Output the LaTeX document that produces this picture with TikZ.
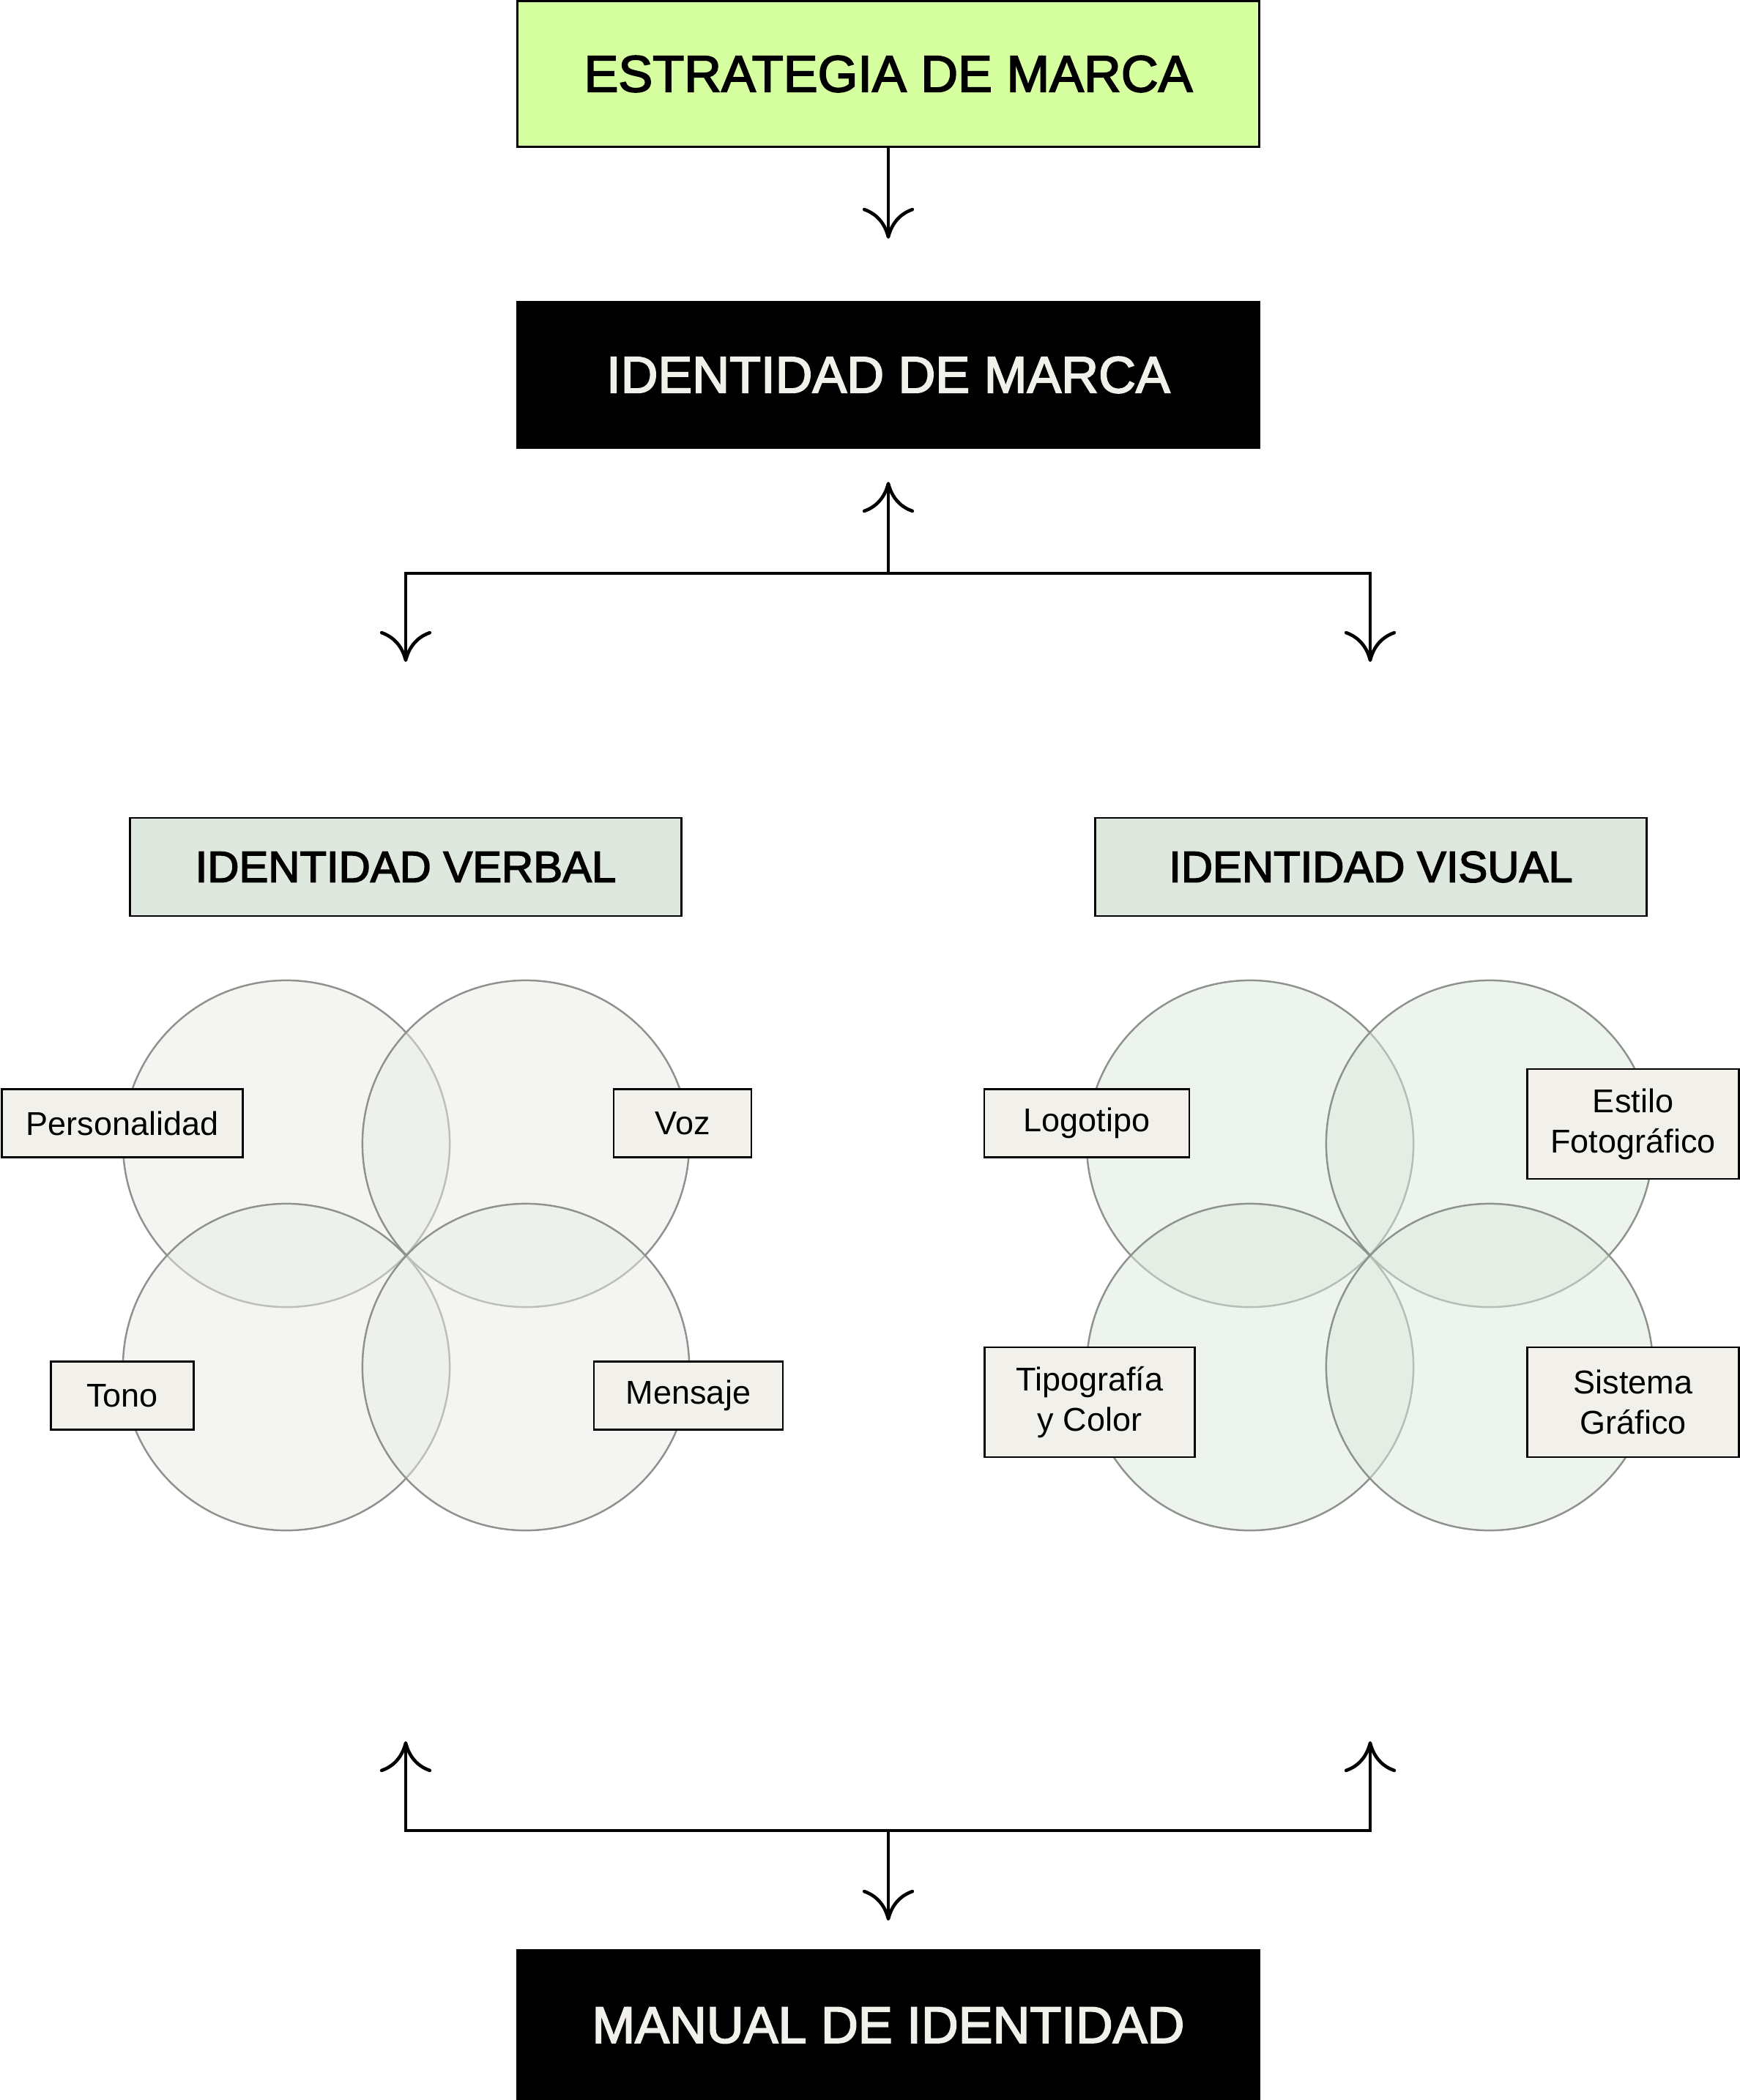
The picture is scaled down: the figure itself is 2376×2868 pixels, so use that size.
\documentclass[tikz,border=0pt]{standalone}
\usepackage{fontspec}
\setmainfont{Liberation Sans}
\newfontfamily\titlefont[FakeBold=2.6]{Liberation Sans}
\usetikzlibrary{arrows.meta}

\definecolor{lime}{HTML}{D6FF9F}
\definecolor{sage}{HTML}{DFE8DF}
\definecolor{paper}{HTML}{F2F0EA}
\definecolor{ring}{HTML}{8E928D}
\definecolor{verbalfill}{HTML}{E9ECE5}
\definecolor{visualfill}{HTML}{DCE9DC}

\tikzset{cmtip/.tip={Computer Modern Rightarrow[length=12pt, width=20pt]}}

\begin{document}
\begin{tikzpicture}[
  x=0.01cm, y=-0.01cm,
  title/.style={draw=black, line width=0.9pt, minimum width=10.13cm, minimum height=1.99cm,
    font=\titlefont\fontsize{20}{24}\selectfont},
  darkbox/.style={title, fill=black, text=paper},
  section/.style={draw=black, line width=0.8pt, fill=sage, minimum width=7.53cm,
    minimum height=1.34cm, font=\titlefont\fontsize{17}{20}\selectfont},
  tag/.style={draw=black, line width=0.8pt, fill=paper, minimum height=0.93cm, inner xsep=0,
    align=center, font=\fontsize{12.8}{15.6}\selectfont},
  venn/.style={circle, draw=ring, line width=0.7pt, minimum size=4.46cm, inner sep=0, fill opacity=0.5},
  flow/.style={line width=1.3pt, -cmtip},
  flowboth/.style={line width=1.3pt, cmtip-cmtip}
]
\useasboundingbox (0,0) rectangle (2376,2868);

% chain at the top
\node[title, fill=lime] (strategy) at (1213,101) {ESTRATEGIA DE MARCA};
\node[darkbox] (identity) at (1213,512) {IDENTIDAD DE MARCA};

\coordinate (strategytip) at (1213,326);
\coordinate (identitytip) at (1213,658);
\coordinate (split) at (1213,783);
\coordinate (splitL) at (554,783);
\coordinate (splitR) at (1871,783);
\coordinate (verbaltip) at (554,904);
\coordinate (visualtip) at (1871,904);

\draw[flow] (strategy) -- (strategytip);
\draw[flow] (split) -- (identitytip);
\draw[flowboth] (verbaltip) -- (splitL) -- (splitR) -- (visualtip);

\node[section] (verbal) at (554,1184) {IDENTIDAD VERBAL};
\node[section] (visual) at (1872,1184) {IDENTIDAD VISUAL};

% verbal circles
\node[venn, fill=verbalfill] (vA) at (391,1562) {};
\node[venn, fill=verbalfill] (vB) at (718,1562) {};
\node[venn, fill=verbalfill] (vC) at (391,1867) {};
\node[venn, fill=verbalfill] (vD) at (718,1867) {};

% visual circles
\node[venn, fill=visualfill] (sA) at (1707,1562) {};
\node[venn, fill=visualfill] (sB) at (2034,1562) {};
\node[venn, fill=visualfill] (sC) at (1707,1867) {};
\node[venn, fill=visualfill] (sD) at (2034,1867) {};

\node[tag, minimum width=3.29cm] (personality) at (167,1534) {Personalidad};
\node[tag, minimum width=1.88cm] (voice) at (932,1534) {Voz};
\node[tag, minimum width=1.95cm] (tone) at (167,1906) {Tono};
\node[tag, minimum width=2.58cm] (message) at (940,1906) {Mensaje};

\node[tag, minimum width=2.80cm] (logo) at (1484,1534) {Logotipo};
\node[tag, minimum width=2.89cm, minimum height=1.50cm] (photo) at (2230,1535) {Estilo\\Fotográfico};
\node[tag, minimum width=2.87cm, minimum height=1.50cm] (type) at (1488,1915) {Tipografía\\y Color};
\node[tag, minimum width=2.89cm, minimum height=1.50cm] (graphic) at (2230,1915) {Sistema\\Gráfico};

% chain at the bottom
\coordinate (joinL) at (554,2500);
\coordinate (joinR) at (1871,2500);
\coordinate (join) at (1213,2500);
\coordinate (verbalup) at (554,2378);
\coordinate (visualup) at (1871,2378);
\coordinate (manualtip) at (1213,2623);

\draw[flowboth] (verbalup) -- (joinL) -- (joinR) -- (visualup);
\draw[flow] (join) -- (manualtip);

\node[darkbox, minimum height=2.05cm] (manual) at (1213,2766) {MANUAL DE IDENTIDAD};

\end{tikzpicture}
\end{document}
